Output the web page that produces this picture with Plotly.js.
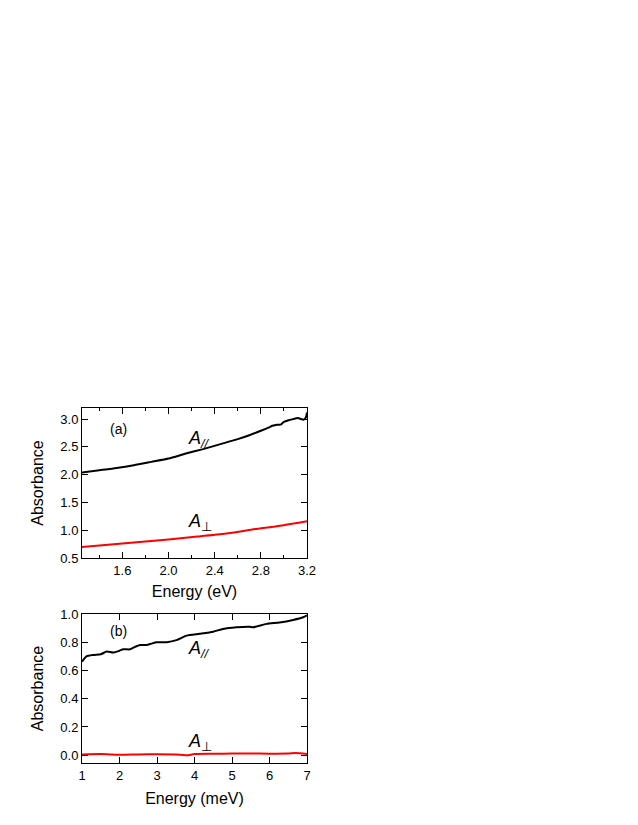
<!DOCTYPE html>
<html>
<head>
<meta charset="utf-8">
<script src="https://cdn.plot.ly/plotly-3.0.1.min.js"></script>
<style>html,body{margin:0;padding:0;background:#fff;} #chart{width:638px;height:825px;}</style>
</head>
<body>
<div id="chart"></div>
<script>
// Panel (a): visible range, energy in eV
const evParX = [1.25, 1.4, 1.55, 1.7, 1.85, 2.0, 2.15, 2.3, 2.45, 2.6, 2.7, 2.8, 2.87, 2.9, 2.94, 2.97, 3.0, 3.04, 3.08, 3.12, 3.15, 3.17, 3.19, 3.2];
const evParY = [2.04, 2.08, 2.12, 2.17, 2.23, 2.29, 2.38, 2.46, 2.55, 2.64, 2.71, 2.79, 2.85, 2.88, 2.90, 2.90, 2.95, 2.98, 3.00, 3.02, 3.00, 2.99, 3.03, 3.12];
const evPerpX = [1.25, 1.5, 1.75, 2.0, 2.25, 2.5, 2.75, 3.0, 3.2];
const evPerpY = [0.70, 0.745, 0.79, 0.835, 0.885, 0.94, 1.02, 1.09, 1.16];

// Panel (b): THz range, energy in meV
const meVParX = [1.0, 1.12, 1.3, 1.5, 1.66, 1.83, 2.0, 2.1, 2.28, 2.4, 2.55, 2.72, 2.85, 2.99, 3.26, 3.52, 3.79, 4.14, 4.5, 4.76, 5.12, 5.47, 5.56, 5.92, 6.27, 6.63, 6.9, 7.0];
const meVParY = [0.663, 0.70, 0.71, 0.715, 0.734, 0.727, 0.74, 0.75, 0.75, 0.765, 0.78, 0.78, 0.79, 0.80, 0.80, 0.815, 0.847, 0.86, 0.875, 0.894, 0.906, 0.91, 0.906, 0.93, 0.94, 0.958, 0.977, 0.99];
const meVPerpX = [1, 1.5, 2, 2.5, 3, 3.5, 3.8, 4.0, 4.5, 5, 5.5, 6, 6.5, 6.7, 7];
const meVPerpY = [0.005, 0.008, 0.004, 0.006, 0.007, 0.006, 0.0, 0.008, 0.01, 0.012, 0.012, 0.011, 0.012, 0.015, 0.008];

const W = 638, H = 825;
const px = v => v / W;
const py = v => 1 - v / H;
const FONT = "Liberation Sans, Arial, Helvetica, sans-serif";

const traces = [
  {x: evParX, y: evParY, mode: 'lines', line: {color: '#000', width: 2, shape: 'spline', smoothing: 0.6}, xaxis: 'x', yaxis: 'y'},
  {x: evPerpX, y: evPerpY, mode: 'lines', line: {color: '#ff0000', width: 2, shape: 'spline', smoothing: 0.6}, xaxis: 'x', yaxis: 'y'},
  {x: meVParX, y: meVParY, mode: 'lines', line: {color: '#000', width: 2, shape: 'spline', smoothing: 0.6}, xaxis: 'x2', yaxis: 'y2'},
  {x: meVPerpX, y: meVPerpY, mode: 'lines', line: {color: '#ff0000', width: 2, shape: 'spline', smoothing: 0.6}, xaxis: 'x2', yaxis: 'y2'}
];

const axBase = {
  showline: true, linecolor: '#000', linewidth: 1, mirror: 'ticks',
  ticks: 'inside', ticklen: 6, tickwidth: 1, tickcolor: '#000',
  showgrid: false, zeroline: false,
  tickfont: {family: FONT, size: 13, color: '#000'}
};

const layout = {
  width: W, height: H,
  margin: {l: 0, r: 0, t: 0, b: 0},
  paper_bgcolor: '#fff', plot_bgcolor: '#fff',
  showlegend: false,
  font: {family: FONT, color: '#000'},
  xaxis: Object.assign({}, axBase, {
    domain: [px(82), px(307)], anchor: 'y',
    range: [1.25, 3.2], tick0: 1.6, dtick: 0.4, tickformat: '.1f',
    minor: {tick0: 1.4, dtick: 0.2, ticks: 'inside', ticklen: 3, tickcolor: '#000', showgrid: false},
    title: {text: 'Energy (eV)', font: {family: FONT, size: 16, color: '#000'}, standoff: 9}
  }),
  yaxis: Object.assign({}, axBase, {
    domain: [py(558), py(408)], anchor: 'x',
    range: [0.5, 3.2], tick0: 0.5, dtick: 0.5, tickformat: '.1f',
    title: {text: 'Absorbance', font: {family: FONT, size: 16, color: '#000'}, standoff: 12}
  }),
  xaxis2: Object.assign({}, axBase, {
    domain: [px(82), px(307)], anchor: 'y2',
    range: [1, 7], tick0: 1, dtick: 1,
    title: {text: 'Energy (meV)', font: {family: FONT, size: 16, color: '#000'}, standoff: 11}
  }),
  yaxis2: Object.assign({}, axBase, {
    domain: [py(763), py(614)], anchor: 'x2',
    range: [-0.055, 1.0], tick0: 0, dtick: 0.2, tickformat: '.1f',
    title: {text: 'Absorbance', font: {family: FONT, size: 16, color: '#000'}, standoff: 12}
  }),
  annotations: [
    {xref: 'paper', yref: 'paper', x: px(108), y: py(429), text: '(a)', showarrow: false, font: {family: FONT, size: 14, color: '#000'}},
    {xref: 'paper', yref: 'paper', x: px(186), y: py(439), xanchor: 'left', text: '<i>A</i><sub><i>//</i></sub>', showarrow: false, font: {family: FONT, size: 18, color: '#000'}},
    {xref: 'paper', yref: 'paper', x: px(186), y: py(522), xanchor: 'left', text: '<i>A</i><sub>⊥</sub>', showarrow: false, font: {family: FONT, size: 18, color: '#000'}},
    {xref: 'paper', yref: 'paper', x: px(108), y: py(641), text: '(b)', showarrow: false, font: {family: FONT, size: 14, color: '#000'}},
    {xref: 'paper', yref: 'paper', x: px(186), y: py(663), xanchor: 'left', text: '<i>A</i><sub><i>//</i></sub>', showarrow: false, font: {family: FONT, size: 18, color: '#000'}},
    {xref: 'paper', yref: 'paper', x: px(186), y: py(756), xanchor: 'left', text: '<i>A</i><sub>⊥</sub>', showarrow: false, font: {family: FONT, size: 18, color: '#000'}}
  ]
};

Plotly.newPlot('chart', traces, layout, {staticPlot: true, displayModeBar: false});
</script>
</body>
</html>
